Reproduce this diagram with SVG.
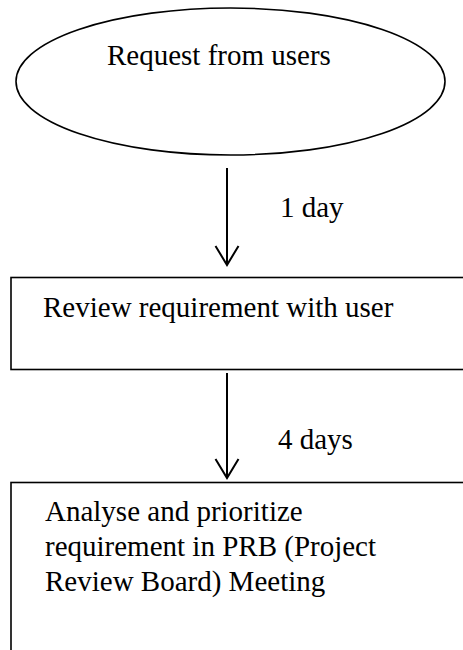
<svg xmlns="http://www.w3.org/2000/svg" width="463" height="650" viewBox="0 0 463 650">
<style>
  .shape { fill: #ffffff; stroke: #000000; stroke-width: 1.6; }
  .conn { stroke: #000000; stroke-width: 2; fill: none; }
  .t { font-family: "Liberation Serif", "Times New Roman", serif; font-size: 29px; fill: #000000; }
</style>
<defs>
  <marker id="open" markerUnits="userSpaceOnUse" markerWidth="24" markerHeight="26" refX="20" refY="12" orient="auto" viewBox="0 0 24 24" overflow="visible">
    <path d="M1,0.5 L20,12 L1,23.5" fill="none" stroke="#000" stroke-width="2"/>
  </marker>
</defs>
<rect width="463" height="650" fill="#ffffff"/>
<g id="node-request">
  <ellipse class="shape" cx="230.5" cy="81.5" rx="214.5" ry="73.5"/>
  <text class="t" x="107" y="65">Request from users</text>
</g>
<g id="node-review">
  <rect class="shape" x="11" y="277.5" width="470" height="92"/>
  <text class="t" x="43" y="317">Review requirement with user</text>
</g>
<g id="node-analyse">
  <rect class="shape" x="11" y="482.5" width="470" height="200"/>
  <text class="t" x="45" y="521">Analyse and prioritize</text>
  <text class="t" x="45" y="556">requirement in PRB (Project</text>
  <text class="t" x="45" y="591">Review Board) Meeting</text>
</g>
<g id="connectors">
  <line class="conn" x1="227" y1="168" x2="227" y2="265" marker-end="url(#open)"/>
  <text class="t" x="280" y="217">1 day</text>
  <line class="conn" x1="227" y1="373" x2="227" y2="478" marker-end="url(#open)"/>
  <text class="t" x="278" y="449">4 days</text>
</g>
</svg>
